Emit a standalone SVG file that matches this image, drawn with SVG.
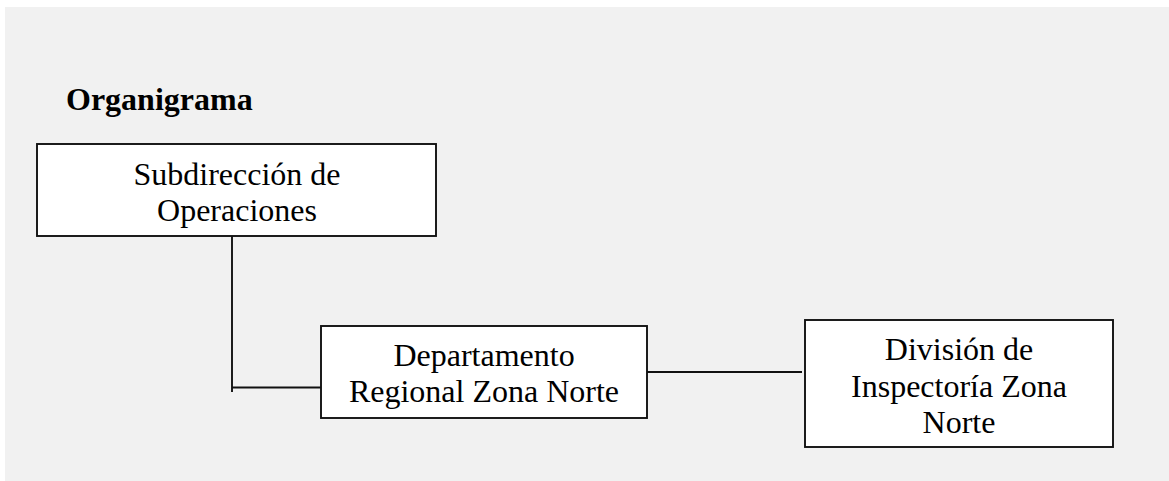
<svg xmlns="http://www.w3.org/2000/svg" width="1169" height="481" viewBox="0 0 1169 481">
  <style>
    .box { fill: #ffffff; stroke: #111111; stroke-width: 1.9; }
    .lbl { font-family: "Liberation Serif", "Times New Roman", serif; font-size: 32px; fill: #000000; text-anchor: middle; }
    .title { font-family: "Liberation Serif", "Times New Roman", serif; font-size: 32px; font-weight: bold; fill: #000000; }
    .conn { stroke: #111111; stroke-width: 1.9; fill: none; }
  </style>
  <rect x="0" y="0" width="1169" height="481" fill="#ffffff"/>
  <rect x="5" y="7" width="1164" height="474" fill="#f1f1f1"/>

  <text class="title" x="66" y="110">Organigrama</text>

  <g id="connectors">
    <polyline class="conn" points="232,236 232,392"/>
    <polyline class="conn" points="232,387.5 321,387.5"/>
    <polyline class="conn" points="647,372 802,372"/>
  </g>

  <g id="node-subdireccion">
    <rect class="box" x="37" y="144" width="399" height="92"/>
    <text class="lbl" x="237" y="185">Subdirección de</text>
    <text class="lbl" x="237" y="221">Operaciones</text>
  </g>

  <g id="node-departamento">
    <rect class="box" x="321" y="326" width="326" height="92"/>
    <text class="lbl" x="484" y="366">Departamento</text>
    <text class="lbl" x="484" y="402">Regional Zona Norte</text>
  </g>

  <g id="node-division">
    <rect class="box" x="805" y="320" width="308" height="127"/>
    <text class="lbl" x="959" y="360">División de</text>
    <text class="lbl" x="959" y="397">Inspectoría Zona</text>
    <text class="lbl" x="959" y="433">Norte</text>
  </g>
</svg>
